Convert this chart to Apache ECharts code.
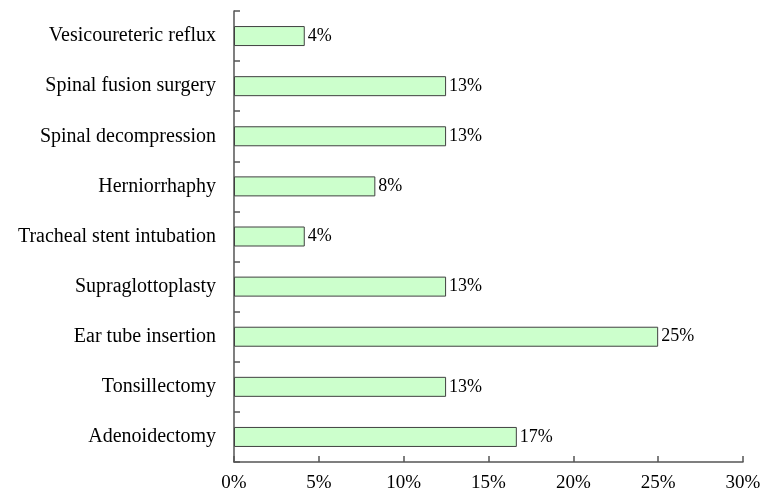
<!DOCTYPE html>
<html>
<head>
<meta charset="utf-8">
<script src="https://cdn.jsdelivr.net/npm/echarts@6/dist/echarts.min.js"></script>
<style>
  html, body { margin: 0; padding: 0; background: #fff; }
  #chart { width: 771px; height: 493px; }
</style>
</head>
<body>
<div id="chart"></div>
<script>
// bottom to top, as on the axis
const procedures = [
  "Adenoidectomy",
  "Tonsillectomy",
  "Ear tube insertion",
  "Supraglottoplasty",
  "Tracheal stent intubation",
  "Herniorrhaphy",
  "Spinal decompression",
  "Spinal fusion surgery",
  "Vesicoureteric reflux"
];
const shares = [16.67, 12.5, 25, 12.5, 4.17, 8.33, 12.5, 12.5, 4.17];
const xTicks = [0, 5, 10, 15, 20, 25, 30];

const font = "'Liberation Serif', 'DejaVu Serif', serif";
const chart = echarts.init(document.getElementById("chart"));
chart.setOption({
  animation: false,
  grid: { left: 234, right: 28, top: 11, bottom: 31 },
  xAxis: {
    type: "value",
    min: xTicks[0],
    max: xTicks[xTicks.length - 1],
    interval: 5,
    axisLine: { show: true, lineStyle: { color: "#555", width: 1.5 } },
    axisTick: { show: true, inside: true, length: 6, lineStyle: { color: "#555", width: 1.5 } },
    splitLine: { show: false },
    axisLabel: {
      color: "#000",
      fontFamily: font,
      fontSize: 19,
      margin: 12,
      formatter: (v) => v + "%"
    }
  },
  yAxis: {
    type: "category",
    data: procedures,
    axisLine: { show: true, lineStyle: { color: "#555", width: 1.5 } },
    axisTick: { show: true, inside: true, length: 6, lineStyle: { color: "#555", width: 1.5 } },
    axisLabel: {
      color: "#000",
      fontFamily: font,
      fontSize: 20,
      margin: 18
    }
  },
  series: [{
    type: "bar",
    data: shares,
    barWidth: 20,
    itemStyle: { color: "#ccffcc", borderColor: "#404040", borderWidth: 1 },
    label: {
      show: true,
      position: "right",
      distance: 3,
      color: "#000",
      fontFamily: font,
      fontSize: 18,
      formatter: ({ value }) => Math.round(value) + "%"
    }
  }]
});
</script>
</body>
</html>
